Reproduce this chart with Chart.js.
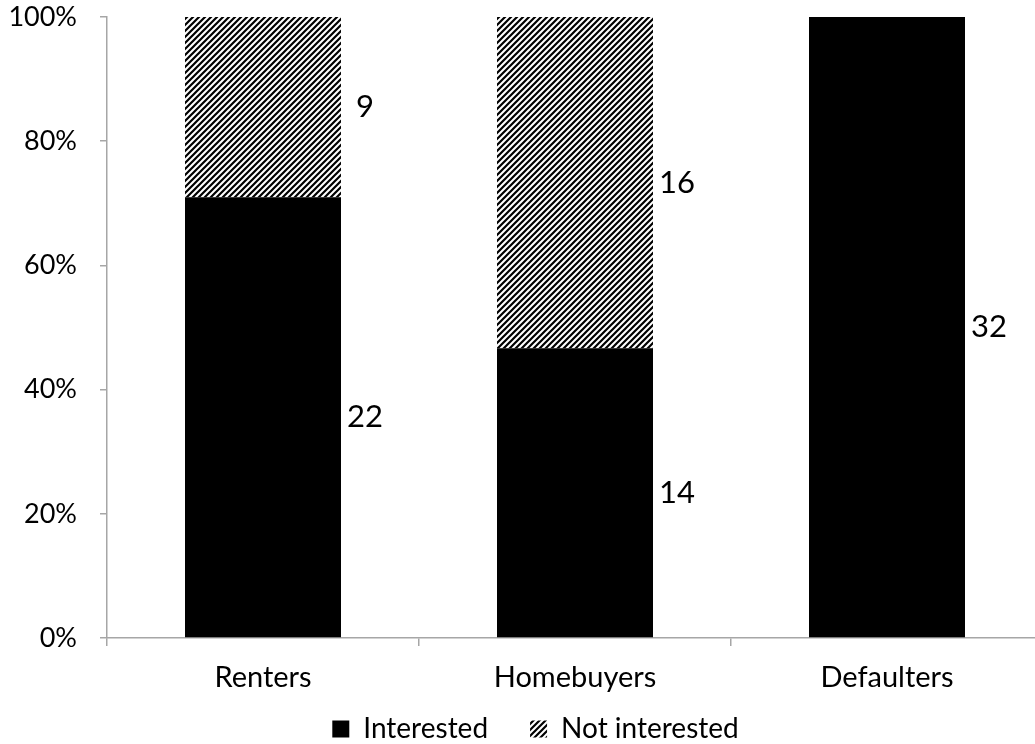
<!DOCTYPE html>
<html>
<head>
<meta charset="utf-8">
<script src="https://cdn.jsdelivr.net/npm/chart.js@4.4.1/dist/chart.umd.min.js"></script>
<style>
  html,body{margin:0;padding:0;background:#fff;overflow:hidden;}
  #wrap{width:1045px;height:744px;}
</style>
</head>
<body>
<div id="wrap"><canvas id="chart" width="1045" height="744"></canvas></div>
<script>
// Data
const categories = ['Renters', 'Homebuyers', 'Defaulters'];
const interested = [22, 14, 32];
const notInterested = [9, 16, 0];
const yTicks = [0, 20, 40, 60, 80, 100];

const totals = categories.map((c, i) => interested[i] + notInterested[i]);
const pct = (arr) => arr.map((v, i) => 100 * v / totals[i]);

// Hatch pattern (upward diagonal)
function hatch(){
  const s = 6, c = document.createElement('canvas'); c.width = s; c.height = s;
  const g = c.getContext('2d');
  g.fillStyle = '#fff'; g.fillRect(0, 0, s, s);
  g.strokeStyle = '#000'; g.lineWidth = 2.2;
  g.beginPath();
  g.moveTo(0, s); g.lineTo(s, 0);
  g.moveTo(-2, 2); g.lineTo(2, -2);
  g.moveTo(s - 2, s + 2); g.lineTo(s + 2, s - 2);
  g.stroke();
  return g.createPattern(c, 'repeat');
}

const axisGray = '#a6a6a6';
const font = 'Lato, "Open Sans", sans-serif';

// value labels to the right of each segment
const countLabels = {
  id: 'countLabels',
  afterDatasetsDraw(chart){
    const ctx = chart.ctx;
    ctx.save();
    ctx.fillStyle = '#000';
    ctx.font = '31px ' + font;
    ctx.textAlign = 'center'; ctx.textBaseline = 'middle';
    chart.data.datasets.forEach((ds, di) => {
      const meta = chart.getDatasetMeta(di);
      meta.data.forEach((bar, i) => {
        const n = ds.counts[i];
        if (!n) return;
        ctx.fillText(String(n), bar.x + bar.width / 2 + 24, (bar.y + bar.base) / 2);
      });
    });
    ctx.restore();
  }
};

// legend sits at the bottom edge, nudged right like the original
const legendFix = {
  id: 'legendFix',
  beforeLayout(chart){
    const lg = chart.legend;
    if (lg && !lg._fixed){
      lg._fixed = true;
      const fit = lg.fit;
      lg.fit = function(){ fit.call(this); this.height = 46; };
    }
  },
  afterLayout(chart){
    const lg = chart.legend;
    if (!lg) return;
    const p = lg.options.labels.padding;
    lg.left += 14; lg.right += 14;
    lg.top = 729 - p - 14; lg.bottom = chart.height;
  }
};

new Chart(document.getElementById('chart'), {
  type: 'bar',
  data: {
    labels: categories,
    datasets: [
      { label: 'Interested', data: pct(interested), counts: interested, backgroundColor: '#000', borderWidth: 0 },
      { label: 'Not interested', data: pct(notInterested), counts: notInterested, backgroundColor: hatch(), borderWidth: 0 }
    ]
  },
  options: {
    responsive: false,
    animation: false,
    barPercentage: 0.5,
    categoryPercentage: 1,
    layout: { padding: { top: 17, right: 2, left: 0, bottom: 0 } },
    plugins: {
      tooltip: { enabled: false },
      legend: {
        position: 'bottom',
        labels: { color: '#000', font: { size: 28, family: font }, boxWidth: 17, boxHeight: 17, padding: 42 }
      }
    },
    scales: {
      x: {
        stacked: true,
        afterFit: (s) => { s.height = 60; s.paddingLeft = 0; s.paddingRight = 0; },
        border: { color: axisGray, width: 1.5 },
        grid: { offset: true, drawOnChartArea: false, drawTicks: true, tickLength: 8, color: axisGray, lineWidth: 1.5 },
        ticks: { color: '#000', font: { size: 29, family: font }, padding: 14 }
      },
      y: {
        stacked: true,
        min: 0, max: 100,
        afterFit: (s) => { s.width = 107; s.paddingTop = 0; s.paddingBottom = 0; },
        afterBuildTicks: (s) => { s.ticks = yTicks.map(v => ({ value: v })); },
        border: { color: axisGray, width: 1.5 },
        grid: { drawOnChartArea: false, drawTicks: true, tickLength: 7, color: axisGray, lineWidth: 1.5 },
        ticks: { color: '#000', font: { size: 27, family: font }, padding: 23, callback: (v) => v + '%' }
      }
    }
  },
  plugins: [countLabels, legendFix]
});
</script>
</body>
</html>
